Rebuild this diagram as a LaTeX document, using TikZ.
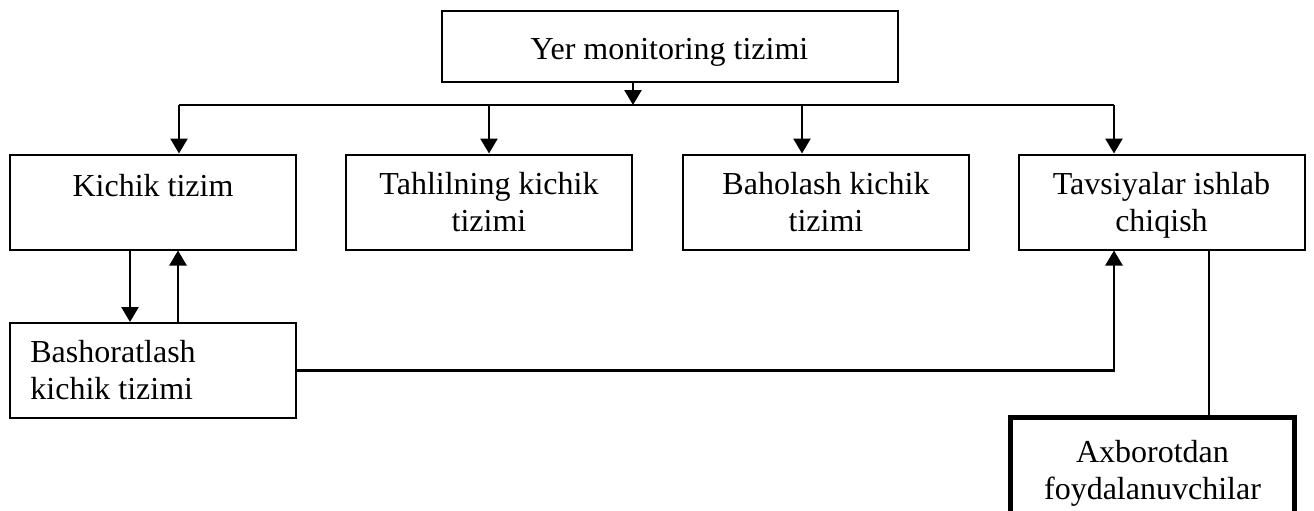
\documentclass[tikz,border=0pt]{standalone}
\usepackage{fontspec}
\setmainfont{Liberation Serif}
\usetikzlibrary{arrows.meta,positioning,calc}

\begin{document}
\begin{tikzpicture}[x=0.5pt,y=-0.5pt,
    box/.style={draw,line width=1pt,minimum width=143pt,minimum height=47.5pt,inner sep=0pt},
    txt/.style={font=\fontsize{16}{18.5}\selectfont,align=center,inner sep=0pt,anchor=north},
    arr/.style={line width=1.3pt,-{Triangle[length=7.5pt,width=8.5pt]}},
    ln/.style={line width=1.1pt}]
    \useasboundingbox (0,0) rectangle (1314,510);
    \clip (0,0) rectangle (1314,510);

    % 顶部框
    \node[box,minimum width=228pt,minimum height=35.5pt] (yer) at (669.5,46) {};
    \node[txt] (yer-t) at (669.5,38) {Yer monitoring tizimi};

    % 第二行框
    \node[box] (kichik) at (153,202) {};
    \node[txt] (kichik-t) at (153,174) {Kichik tizim};
    \node[box] (tahlil) at (489,202) {};
    \node[txt] (tahlil-t) at (489,172) {Tahlilning kichik\\tizimi};
    \node[box] (baho) at (826,202) {};
    \node[txt] (baho-t) at (826,172) {Baholash kichik\\tizimi};
    \node[box] (tavs) at (1161.5,202) {};
    \node[txt] (tavs-t) at (1161.5,172) {Tavsiyalar ishlab\\chiqish};

    % 下方框
    \node[box] (bash) at (153,370.5) {};
    \node[txt,align=left,anchor=north west] (bash-t) at (30,340) {Bashoratlash\\kichik tizimi};
    \node[box,line width=2.5pt,minimum width=142pt,minimum height=57.5pt] (foy) at (1152.5,475) {};
    \node[txt] (foy-t) at (1152.5,440) {Axborotdan\\foydalanuvchilar};

    % 分支线
    \coordinate (bmid) at (633,105);
    \coordinate (b1) at (179,105); \coordinate (b2) at (489,105);
    \coordinate (b3) at (802,105); \coordinate (b4) at (1114,105);
    \draw[arr] (yer.south -| bmid) -- (bmid);
    \draw[ln] (b1) -- (b4);
    \foreach \b/\n in {b1/kichik,b2/tahlil,b3/baho,b4/tavs}
        \draw[arr] (\b) -- (\b |- \n.north);

    % 其余连线
    \coordinate (d1) at (130,0); \coordinate (u1) at (178,0); \coordinate (c1) at (1209,0);
    \draw[arr] (kichik.south -| d1) -- (bash.north -| d1);
    \draw[arr] (bash.north -| u1) -- (kichik.south -| u1);
    \draw[arr] (bash.east) -| (tavs.south -| b4);
    \draw[ln] (tavs.south -| c1) -- (foy.north -| c1);
\end{tikzpicture}
\end{document}
